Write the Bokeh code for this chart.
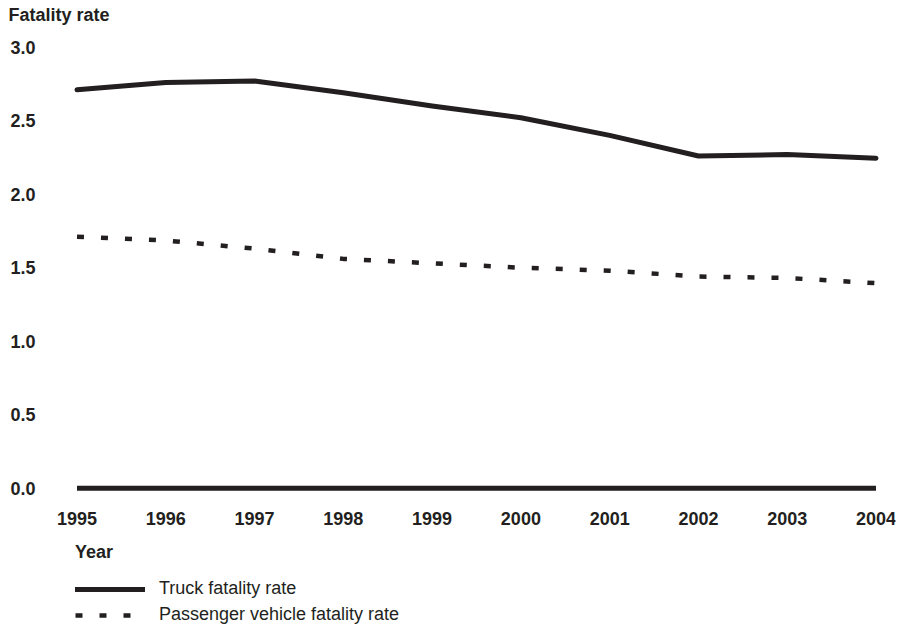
from bokeh.plotting import figure
from bokeh.models import Range1d, FixedTicker, Legend, LegendItem
from bokeh.embed import file_html
from bokeh.resources import INLINE

years = [1995, 1996, 1997, 1998, 1999, 2000, 2001, 2002, 2003, 2004]
truck_rate = [2.71, 2.76, 2.77, 2.69, 2.60, 2.52, 2.40, 2.26, 2.27, 2.245]
passenger_rate = [1.71, 1.685, 1.63, 1.56, 1.53, 1.50, 1.48, 1.44, 1.43, 1.395]
zero_x = [1995, 2004]
zero_y = [0, 0]
y_ticks = [0, 0.5, 1.0, 1.5, 2.0, 2.5, 3.0]
y_tick_labels = ["0.0", "0.5", "1.0", "1.5", "2.0", "2.5", "3.0"]
x_tick_labels = [str(y) for y in years]

INK = "#231f20"
FONT = "Liberation Sans"

p = figure(width=903, height=626, output_backend="svg", toolbar_location=None,
           x_range=Range1d(1994.7015, 2004.2196), y_range=Range1d(-0.9408, 3.1544),
           min_border_left=50, min_border_right=8, min_border_top=24, min_border_bottom=0)
p.grid.visible = False
p.outline_line_color = None
p.background_fill_color = "white"

zl = p.line(zero_x, zero_y, line_color=INK, line_width=5, line_cap="butt")
tr = p.line(years, truck_rate, line_color=INK, line_width=5, line_cap="round", line_join="round")
pr = p.line(years, passenger_rate, line_color=INK, line_width=4.5, line_dash="7 17", line_cap="butt")

for ax in (p.xaxis[0], p.yaxis[0]):
    ax.axis_line_color = None
    ax.major_tick_line_color = None
    ax.minor_tick_line_color = None
    ax.major_tick_out = 0
    ax.major_tick_in = 0
    ax.major_label_text_font = FONT
    ax.major_label_text_font_style = "bold"
    ax.major_label_text_font_size = "18px"
    ax.major_label_text_color = INK

p.yaxis.ticker = FixedTicker(ticks=y_ticks)
p.yaxis.major_label_overrides = {t: l for t, l in zip(y_ticks, y_tick_labels)}
p.yaxis.major_label_standoff = 15

p.xaxis.ticker = FixedTicker(ticks=years)
p.xaxis.major_label_overrides = {t: l for t, l in zip(years, x_tick_labels)}
p.xaxis.major_label_standoff = 9
p.xaxis.fixed_location = -0.0973

p.title.text = "Fatality rate"
p.title.align = "left"
p.title.offset = -42
p.title.standoff = 0
p.title.text_font = FONT
p.title.text_font_style = "bold"
p.title.text_font_size = "18px"
p.title.text_color = INK

legend = Legend(items=[LegendItem(label="Truck fatality rate", renderers=[tr]),
                       LegendItem(label="Passenger vehicle fatality rate", renderers=[pr])],
                title="Year", location=(25, 1), margin=0, padding=0,
                border_line_color=None, background_fill_alpha=0,
                glyph_width=70, glyph_height=18, label_height=18, label_standoff=14,
                spacing=5, title_standoff=15,
                label_text_font=FONT, label_text_font_size="18px", label_text_color=INK,
                title_text_font=FONT, title_text_font_style="bold", title_text_font_size="18px",
                title_text_color=INK)
p.add_layout(legend, "center")

open("out.html", "w").write(file_html(p, INLINE))
